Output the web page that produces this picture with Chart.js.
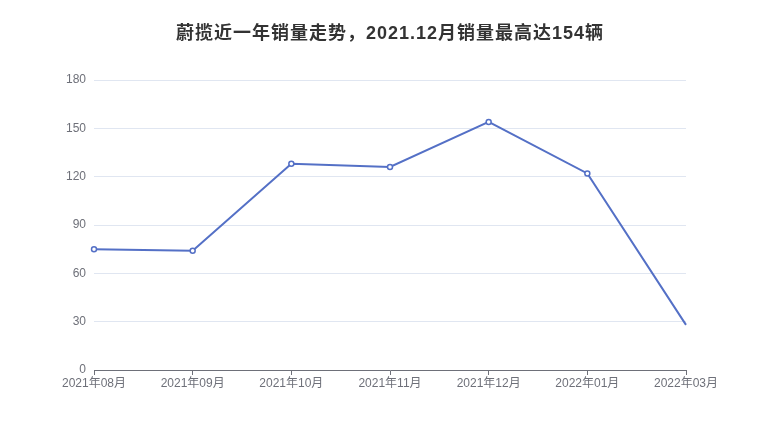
<!DOCTYPE html>
<html>
<head>
<meta charset="utf-8">
<script src="https://cdn.jsdelivr.net/npm/chart.js@4/dist/chart.umd.min.js"></script>
<style>
  html, body { margin: 0; padding: 0; background: #fff; }
  #wrap { width: 780px; height: 440px; }
</style>
</head>
<body>
<div id="wrap"><canvas id="salesChart"></canvas></div>
<script>
// months and monthly sales
const months = ['2021年08月', '2021年09月', '2021年10月', '2021年11月', '2021年12月', '2022年01月', '2022年03月'];
const sales = [75, 74, 128, 126, 154, 122, 28];
const yTicks = [0, 30, 60, 90, 120, 150, 180];
const titleText = '蔚揽近一年销量走势，2021.12月销量最高达154辆';

const fontFamily = '"Liberation Sans", Arial, "Noto Sans CJK SC", sans-serif';

// last point shows no marker
const radii = sales.map((v, i) => i === sales.length - 1 ? 0 : 2.5);

// title centred on the whole canvas, not on the plot area
const canvasTitle = {
    id: 'canvasTitle',
    afterDraw(chart) {
        const c = chart.ctx;
        c.save();
        c.font = 'bold 18px ' + fontFamily;
        c.fillStyle = '#333333';
        c.textAlign = 'center';
        c.textBaseline = 'middle';
        c.letterSpacing = '1px';
        c.fillText(titleText, chart.width / 2, 34);
        c.restore();
    }
};

const ctx = document.getElementById('salesChart').getContext('2d');
const chart = new Chart(ctx, {
    type: 'line',
    data: {
        labels: months,
        datasets: [{
            label: '销量',
            data: sales,
            borderColor: '#5470c6',
            borderWidth: 2,
            backgroundColor: '#ffffff',
            pointBackgroundColor: '#ffffff',
            pointBorderColor: '#5470c6',
            pointBorderWidth: 1.5,
            pointRadius: radii,
            pointHoverRadius: radii,
            tension: 0,
            fill: false
        }]
    },
    options: {
        responsive: true,
        maintainAspectRatio: false,
        animation: false,
        layout: {
            padding: { left: 0, right: 94, top: 80, bottom: 40 }
        },
        plugins: {
            legend: { display: false },
            tooltip: { enabled: false },
            title: { display: false }
        },
        scales: {
            x: {
                offset: false,
                grid: {
                    drawOnChartArea: false,
                    drawTicks: true,
                    tickLength: 5,
                    color: '#6e7079'
                },
                border: { display: true, color: '#6e7079', width: 1 },
                ticks: {
                    color: '#6e7079',
                    font: { family: fontFamily, size: 12 },
                    padding: 1,
                    maxRotation: 0,
                    autoSkip: false
                },
                afterFit: (scale) => { scale.height = 30; }
            },
            y: {
                min: yTicks[0],
                max: yTicks[yTicks.length - 1],
                grid: {
                    color: '#e0e6f1',
                    drawTicks: false
                },
                border: { display: false },
                ticks: {
                    stepSize: yTicks[1] - yTicks[0],
                    color: '#6e7079',
                    font: { family: fontFamily, size: 12 },
                    padding: 8
                },
                afterFit: (scale) => { scale.width = 94; }
            }
        }
    },
    plugins: [canvasTitle]
});
</script>
</body>
</html>
